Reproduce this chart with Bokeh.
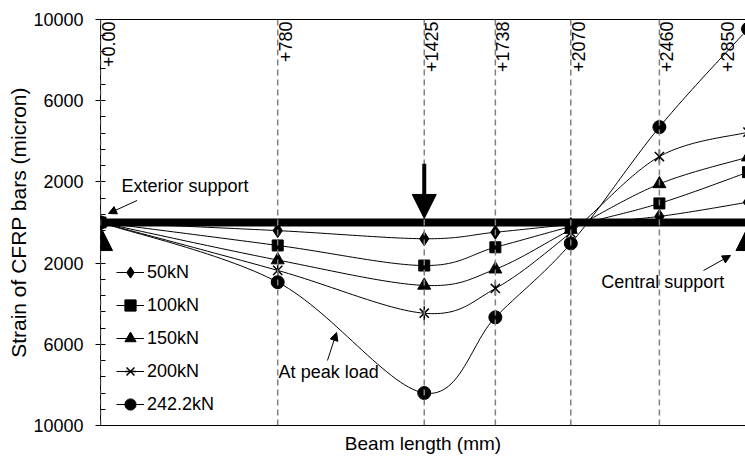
import numpy as np
from math import pi
from bokeh.plotting import figure
from bokeh.models import (Span, Label, Arrow, NormalHead, FixedTicker, Legend, LegendItem,
                          ColumnDataSource, Range1d, LinearAxis)
from bokeh.embed import file_html
from bokeh.resources import INLINE

# ---------------- data ----------------
positions = [0, 780, 1425, 1738, 2070, 2460, 2850]
position_labels = ["+0.00", "+780", "+1425", "+1738", "+2070", "+2460", "+2850"]
load_labels = ["50kN", "100kN", "150kN", "200kN", "242.2kN"]
strain_50kN = [0, -400, -800, -480, -100, 300, 1000]
strain_100kN = [0, -1130, -2120, -1220, -200, 940, 2480]
strain_150kN = [0, -1850, -3100, -2300, -350, 1900, 3220]
strain_200kN = [0, -2360, -4470, -3250, -500, 3250, 4450]
strain_242kN = [0, -2940, -8400, -4670, -1030, 4700, 9540]
y_ticks = [-10000, -6000, -2000, 2000, 6000, 10000]
y_tick_labels = ["10000", "6000", "2000", "2000", "6000", "10000"]
support_positions = [0, 2850]
load_position = 1425

FONT = "Liberation Sans"
FS = "18px"


def smooth(xs, ys, n=30):
    """Bezier smoothing (Catmull-Rom style) of the measured points for the drawn curve."""
    x = np.asarray(xs, float)
    y = np.asarray(ys, float)
    px = np.concatenate([[x[0]], x, [x[-1]]])
    py = np.concatenate([[y[0]], y, [y[-1]]])
    t = np.linspace(0, 1, n, endpoint=False)
    ox, oy = [], []
    for i in range(len(x) - 1):
        x0, x1, x2, x3 = px[i], px[i + 1], px[i + 2], px[i + 3]
        y0, y1, y2, y3 = py[i], py[i + 1], py[i + 2], py[i + 3]
        c1x, c1y = x1 + (x2 - x0) / 6, y1 + (y2 - y0) / 6
        c2x, c2y = x2 - (x3 - x1) / 6, y2 - (y3 - y1) / 6
        b0, b1, b2, b3 = (1 - t) ** 3, 3 * (1 - t) ** 2 * t, 3 * (1 - t) * t ** 2, t ** 3
        ox.extend(b0 * x1 + b1 * c1x + b2 * c2x + b3 * x2)
        oy.extend(b0 * y1 + b1 * c1y + b2 * c2y + b3 * y2)
    ox.append(x[-1])
    oy.append(y[-1])
    return ox, oy


p = figure(width=745, height=456, output_backend="svg", toolbar_location=None,
           x_range=Range1d(0, 2839), y_range=Range1d(-10000, 10000),
           min_border_left=100, min_border_right=0, min_border_top=19, min_border_bottom=31)
p.xgrid.visible = False
p.ygrid.visible = False
p.outline_line_color = None
p.background_fill_color = "white"
p.border_fill_color = "white"

# y axis
minor = [v for v in range(-10000, 10001, 800) if v not in y_ticks]
p.yaxis.ticker = FixedTicker(ticks=y_ticks, minor_ticks=minor)
p.yaxis.major_label_overrides = {t: lab for t, lab in zip(y_ticks, y_tick_labels)}
p.yaxis.axis_label = "Strain of CFRP bars (micron)"
p.yaxis.axis_label_text_font = FONT
p.yaxis.axis_label_text_font_size = "21px"
p.yaxis.axis_label_text_font_style = "normal"
p.yaxis.axis_label_text_color = "black"
p.yaxis.axis_label_standoff = 0
p.yaxis.major_label_text_font = FONT
p.yaxis.major_label_text_font_size = FS
p.yaxis.major_label_text_color = "black"
p.yaxis.major_label_standoff = 12
p.yaxis.major_tick_in = 5
p.yaxis.major_tick_out = 5
p.yaxis.minor_tick_in = 5
p.yaxis.minor_tick_out = 0
p.yaxis.axis_line_color = "black"
p.yaxis.major_tick_line_color = "black"
p.yaxis.minor_tick_line_color = "black"

# x axis
p.xaxis.ticker = FixedTicker(ticks=[])
p.xaxis.major_tick_in = 0
p.xaxis.major_tick_out = 0
p.xaxis.minor_tick_in = 0
p.xaxis.minor_tick_out = 0
p.xaxis.major_label_standoff = 0
p.xaxis.axis_label = "Beam length (mm)"
p.xaxis.axis_label_text_font = FONT
p.xaxis.axis_label_text_font_size = "19px"
p.xaxis.axis_label_text_font_style = "normal"
p.xaxis.axis_label_text_color = "black"
p.xaxis.axis_label_standoff = 7
p.xaxis.axis_line_color = "black"

top_axis = LinearAxis(ticker=FixedTicker(ticks=[]), major_tick_in=0, major_tick_out=0,
                      minor_tick_in=0, minor_tick_out=0, major_label_standoff=0,
                      axis_line_color="black")
p.add_layout(top_axis, "above")

# beam
p.add_layout(Span(location=0, dimension="width", line_color="black", line_width=8, level="underlay"))

# series
series = [strain_50kN, strain_100kN, strain_150kN, strain_200kN, strain_242kN]
items = []
for lab, vals in zip(load_labels, series):
    sx, sy = smooth(positions, vals)
    ln = p.line(sx, sy, line_color="black", line_width=1)
    src = ColumnDataSource(dict(x=positions, y=vals))
    rs = [ln]
    if lab == "50kN":
        rs.append(p.scatter("x", "y", source=src, marker="diamond", size=14,
                            fill_color="black", line_color="black"))
    elif lab == "100kN":
        rs.append(p.scatter("x", "y", source=src, marker="square", size=11,
                            fill_color="black", line_color="black"))
    elif lab == "150kN":
        rs.append(p.scatter("x", "y", source=src, marker="triangle", size=13,
                            fill_color="black", line_color="black"))
    elif lab == "200kN":
        rs.append(p.scatter("x", "y", source=src, marker="x", size=13,
                            line_color="black", line_width=1.5))
        rs.append(p.scatter("x", "y", source=src, marker="dash", angle=pi / 2, size=14,
                            line_color="black", line_width=1.5))
    else:
        rs.append(p.scatter("x", "y", source=src, marker="circle", size=13,
                            fill_color="black", line_color="black"))
    items.append(LegendItem(label=lab, renderers=rs))

legend = Legend(items=items, location=(16, 6), padding=0, margin=0,
                border_line_alpha=0, background_fill_alpha=0,
                glyph_width=28, glyph_height=30, label_height=20, spacing=3,
                label_standoff=3, label_text_font=FONT, label_text_font_size=FS,
                label_text_color="black")
p.add_layout(legend)

# vertical dashed section lines and labels
for pos in positions:
    p.add_layout(Span(location=pos, dimension="height", line_color="#808080",
                      line_width=1.5, line_dash="6 4"))
for pos, lab in zip(positions, position_labels):
    xo = -27 if lab == "+2850" else 1
    p.add_layout(Label(x=pos, y=10000, text=lab, angle=pi / 2, text_align="right",
                       text_baseline="top", x_offset=xo, y_offset=-2,
                       text_font=FONT, text_font_size=FS, text_color="black"))

# supports
for sp in support_positions:
    p.add_layout(Arrow(x_start=sp, y_start=-5000, x_end=sp, y_end=-200, line_alpha=0,
                       end=NormalHead(size=24, fill_color="black", line_color="black")))

# load arrow
p.add_layout(Arrow(x_start=load_position, y_start=2900, x_end=load_position, y_end=200,
                   line_width=4, line_color="black",
                   end=NormalHead(size=24, fill_color="black", line_color="black")))

# annotations
ann = dict(text_font=FONT, text_font_size=FS, text_color="black", text_baseline="middle")
p.add_layout(Label(x=92, y=1820, text="Exterior support", **ann))
p.add_layout(Arrow(x_start=161, y_start=1084, x_end=35, y_end=443, line_width=1,
                   end=NormalHead(size=8, fill_color="black", line_color="black")))
p.add_layout(Label(x=2204, y=-2940, text="Central support", **ann))
p.add_layout(Arrow(x_start=2654, y_start=-2365, x_end=2773, y_end=-1626, line_width=1,
                   end=NormalHead(size=8, fill_color="black", line_color="black")))
p.add_layout(Label(x=784, y=-7370, text="At peak load", **ann))
p.add_layout(Arrow(x_start=999, y_start=-6798, x_end=1039, y_end=-5419, line_width=1,
                   end=NormalHead(size=8, fill_color="black", line_color="black")))

open("out.html", "w").write(file_html(p, INLINE))
